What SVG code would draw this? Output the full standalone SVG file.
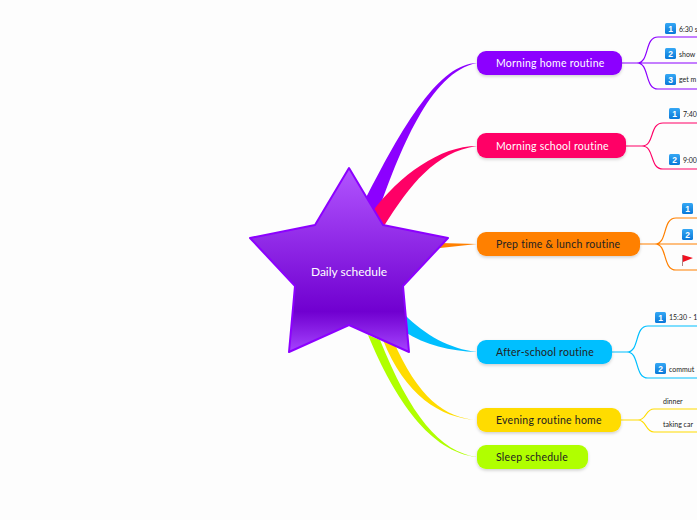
<svg xmlns="http://www.w3.org/2000/svg" width="697" height="520" viewBox="0 0 697 520">
<style>
.n{font:400 10.5px Lato,"Noto Sans",sans-serif;letter-spacing:.25px}
.w{fill:#fff}.d{fill:#222}
.s{font:400 7px Lato,"Noto Sans",sans-serif;fill:#222}
.l{fill:none;stroke-width:1.2}
.num{font:700 8.5px "Liberation Sans",sans-serif;fill:#fff;text-anchor:middle}
.b{fill:url(#blue)}
</style>
<defs>
<linearGradient id="star" x1="0" y1="0" x2="0" y2="1">
<stop offset="0" stop-color="#b255ff"/><stop offset=".78" stop-color="#7000d0"/><stop offset="1" stop-color="#a644ff"/>
</linearGradient>
<linearGradient id="blue" x1="0" y1="0" x2="0" y2="1">
<stop offset="0" stop-color="#35a8f5"/><stop offset="1" stop-color="#0a78d8"/>
</linearGradient>
<filter id="sh" x="-10%" y="-20%" width="120%" height="150%"><feDropShadow dx="0" dy="1.5" stdDeviation="1.5" flood-color="#000" flood-opacity=".18"/></filter>
</defs>
<rect width="697" height="520" fill="#fdfdfd"/>
<g id="connectors">
<path d="M477 63C440 64 405 120 360 210L376 218C400 150 430 72 477 63Z" fill="#8c00ff"/>
<path d="M477 146C440 146 400 175 372 212L384 226C410 185 435 152 477 146Z" fill="#ff0066"/>
<path d="M477 244L440 243L440 248Z" fill="#ff8000"/>
<path d="M477 352C450 349 425 335 405 315L405 332C425 345 450 351 477 352Z" fill="#00bfff"/>
<path d="M477 420C445 418 418 398 393 340L383 340C405 395 440 418 477 420Z" fill="#ffdc00"/>
<path d="M477 457C440 452 410 415 380 340L368 335C395 400 430 452 477 457Z" fill="#b0ff00"/>
<path stroke="#8c00ff" class="l" d="M622 63H697M637 63C650 63 644 37 658 37H697M637 63C650 63 644 89 658 89H697"/>
<path stroke="#ff0066" class="l" d="M626 146H642C655 146 649 123 663 123H697M642 146C655 146 649 169 663 169H697"/>
<path stroke="#ff8000" class="l" d="M640 244H697M655 244C668 244 662 218 676 218H697M655 244C668 244 662 270 676 270H697"/>
<path stroke="#00bfff" class="l" d="M612 352H627C640 352 634 326 648 326H697M627 352C640 352 634 378 648 378H697"/>
<path stroke="#ffdc00" class="l" d="M621 420H638C647 420 645 409 654 409H697M638 420C647 420 645 432 654 432H697"/>
</g>
<g id="root">
<path d="M349 168L383 225L448 238L403 286L409 352L349 325L289 352L295 286L250 238L315 225Z" fill="url(#star)" stroke="#8c00ff" stroke-width="2" stroke-linejoin="round"/>
<text x="349" y="276" text-anchor="middle" style="font:400 12px Lato,sans-serif;fill:#fff">Daily schedule</text>
</g>
<g id="n1"><rect x="477" y="51" width="145" height="24" rx="9" fill="#8c00ff" filter="url(#sh)"/><text x="496" y="67" class="n w">Morning home routine</text></g>
<g id="n2"><rect x="477" y="133" width="149" height="25" rx="9" fill="#ff0066" filter="url(#sh)"/><text x="496" y="150" class="n w">Morning school routine</text></g>
<g id="n3"><rect x="477" y="232" width="163" height="24" rx="9" fill="#ff8000" filter="url(#sh)"/><text x="496" y="248" class="n d">Prep time &amp; lunch routine</text></g>
<g id="n4"><rect x="477" y="340" width="135" height="24" rx="9" fill="#00bfff" filter="url(#sh)"/><text x="496" y="356" class="n d">After-school routine</text></g>
<g id="n5"><rect x="477" y="408" width="144" height="24" rx="9" fill="#ffdc00" filter="url(#sh)"/><text x="496" y="424" class="n d">Evening routine home</text></g>
<g id="n6"><rect x="477" y="445" width="111" height="24" rx="9" fill="#b0ff00" filter="url(#sh)"/><text x="496" y="461" class="n d">Sleep schedule</text></g>
<g id="leaves">
<rect class="b" x="665" y="23" width="11" height="11" rx="1.5"/><text class="num" x="670.5" y="31.5">1</text><text class="s" x="679" y="31.5">6:30 s</text>
<rect class="b" x="665" y="48" width="11" height="11" rx="1.5"/><text class="num" x="670.5" y="56.5">2</text><text class="s" x="679" y="57">show</text>
<rect class="b" x="665" y="74" width="11" height="11" rx="1.5"/><text class="num" x="670.5" y="82.5">3</text><text class="s" x="679" y="82">get m</text>
<rect class="b" x="669" y="108" width="11" height="11" rx="1.5"/><text class="num" x="674.5" y="116.5">1</text><text class="s" x="683" y="116.5">7:40</text>
<rect class="b" x="669" y="154" width="11" height="11" rx="1.5"/><text class="num" x="674.5" y="162.5">2</text><text class="s" x="683" y="162.5">9:00</text>
<rect class="b" x="682" y="203" width="11" height="11" rx="1.5"/><text class="num" x="687.5" y="211.5">1</text>
<rect class="b" x="682" y="229" width="11" height="11" rx="1.5"/><text class="num" x="687.5" y="237.5">2</text>
<path d="M682.5 255V266" stroke="#b08080" stroke-width="1"/><path d="M683 255L693 258L683 262Z" fill="#f01020"/>
<rect class="b" x="655" y="312" width="11" height="11" rx="1.5"/><text class="num" x="660.5" y="320.5">1</text><text class="s" x="669" y="320">15:30 - 1</text>
<rect class="b" x="655" y="363" width="11" height="11" rx="1.5"/><text class="num" x="660.5" y="371.5">2</text><text class="s" x="669" y="372">commut</text>
<text class="s" x="663" y="404">dinner</text>
<text class="s" x="663" y="427">taking car</text>
</g>
</svg>
